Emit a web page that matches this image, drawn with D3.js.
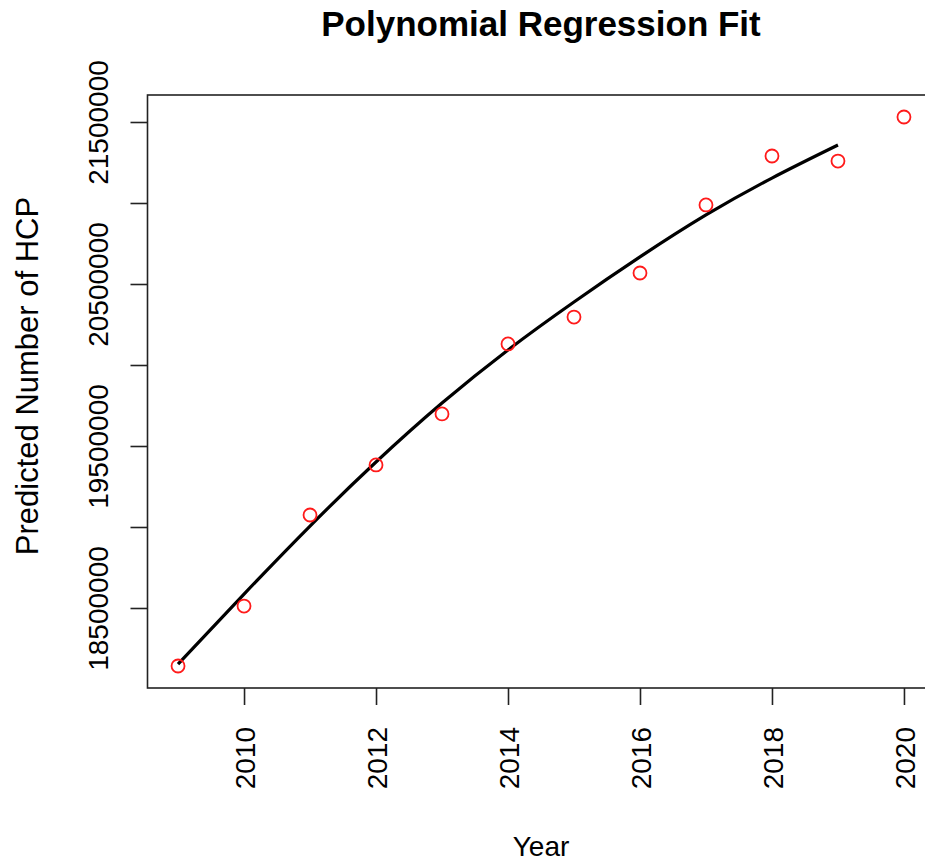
<!DOCTYPE html>
<html>
<head>
<meta charset="utf-8">
<script src="https://cdn.jsdelivr.net/npm/d3@7"></script>
<style>
  html, body { margin: 0; padding: 0; background: #ffffff; }
  svg { display: block; }
  text { font-family: "Liberation Sans", Arial, Helvetica, sans-serif; fill: #000; }
</style>
</head>
<body>
<svg id="chart" width="925" height="863"></svg>
<script>
// ---- data ----
const years = [2009, 2010, 2011, 2012, 2013, 2014, 2015, 2016, 2017, 2018, 2019, 2020];
const observed = [18142000, 18512000, 19074000, 19383000, 19698000, 20130000, 20296000, 20568000, 20988000, 21290000, 21259000, 21531000];
const fitYears = [2009, 2010, 2011, 2012, 2013, 2014, 2015, 2016, 2017, 2018, 2019];
const fitted = [18154000, 18586000, 19006000, 19401000, 19765000, 20093000, 20389000, 20667000, 20926000, 21154000, 21358000];
const xTicks = [2010, 2012, 2014, 2016, 2018, 2020];
const yTicks = [18500000, 19000000, 19500000, 20000000, 20500000, 21000000, 21500000];
const yTickLabels = [18500000, 19500000, 20500000, 21500000];
const titleText = "Polynomial Regression Fit";
const xLabel = "Year";
const yLabel = "Predicted Number of HCP";

// ---- layout ----
const svg = d3.select("#chart");
const pLeft = 149, pRight = 933, pTop = 95, pBottom = 688;

const x = d3.scaleLinear().domain([2008.56, 2020.44]).range([pLeft, pRight]);
const y = d3.scaleLinear().domain([18006173, 21666667]).range([pBottom, pTop]);

// frame
svg.append("rect")
  .attr("x", pLeft - 1.5).attr("y", pTop)
  .attr("width", pRight - pLeft + 1.5).attr("height", pBottom - pTop)
  .attr("fill", "none").attr("stroke", "#222").attr("stroke-width", 1.6);

// x axis
const xAxis = svg.append("g")
  .attr("transform", `translate(0,${pBottom})`)
  .call(d3.axisBottom(x).tickValues(xTicks).tickSize(17).tickFormat(d3.format("d")));
xAxis.select(".domain").remove();
xAxis.selectAll(".tick line").attr("stroke", "#222").attr("stroke-width", 1.6);
xAxis.selectAll(".tick text")
  .attr("transform", "rotate(-90)")
  .attr("text-anchor", "end")
  .attr("x", -39).attr("y", 10.5).attr("dy", 0)
  .style("font-size", "28px")
  .style("font-family", '"Liberation Sans", Arial, sans-serif')
  .attr("fill", "#000");

// y axis
const yAxis = svg.append("g")
  .attr("transform", `translate(${pLeft - 1.5},0)`)
  .call(d3.axisLeft(y).tickValues(yTicks).tickSize(17)
    .tickFormat(d => yTickLabels.includes(d) ? d3.format("d")(d) : ""));
yAxis.select(".domain").remove();
yAxis.selectAll(".tick line").attr("stroke", "#222").attr("stroke-width", 1.6);
yAxis.selectAll(".tick text")
  .attr("transform", "rotate(-90)")
  .attr("text-anchor", "middle")
  .attr("x", 0).attr("y", -39.5).attr("dy", 0)
  .style("font-size", "28px")
  .style("font-family", '"Liberation Sans", Arial, sans-serif')
  .attr("fill", "#000");

// fitted curve
const line = d3.line()
  .x((d, i) => x(fitYears[i]))
  .y(d => y(d))
  .curve(d3.curveNatural);
svg.append("path")
  .datum(fitted)
  .attr("d", line)
  .attr("fill", "none")
  .attr("stroke", "#000")
  .attr("stroke-width", 3.2);

// observed points
svg.append("g").selectAll("circle")
  .data(observed)
  .join("circle")
  .attr("cx", (d, i) => x(years[i]))
  .attr("cy", d => y(d))
  .attr("r", 6.5)
  .attr("fill", "none")
  .attr("stroke", "#ff1a1a")
  .attr("stroke-width", 1.8);

// titles
const cx = (pLeft + pRight) / 2;
svg.append("text")
  .attr("x", cx).attr("y", 36)
  .attr("text-anchor", "middle")
  .style("font-size", "35px").style("font-weight", "bold")
  .text(titleText);

svg.append("text")
  .attr("x", cx).attr("y", 856)
  .attr("text-anchor", "middle")
  .style("font-size", "28px")
  .text(xLabel);

svg.append("text")
  .attr("transform", `translate(38,376) rotate(-90)`)
  .attr("text-anchor", "middle")
  .style("font-size", "31px")
  .text(yLabel);
</script>
</body>
</html>
